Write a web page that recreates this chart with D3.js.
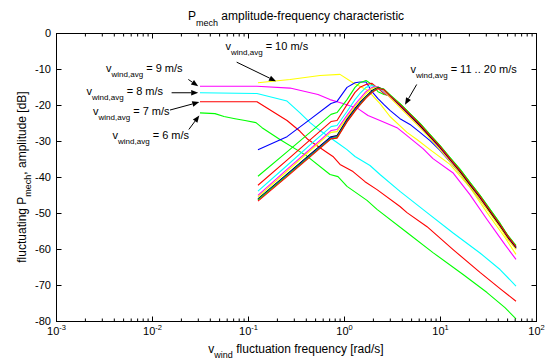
<!DOCTYPE html>
<html>
<head>
<meta charset="utf-8">
<script src="https://cdn.jsdelivr.net/npm/d3@7"></script>
<style>
  html, body { margin: 0; padding: 0; background: #fff; }
  svg { display: block; font-family: "Liberation Sans", Arial, Helvetica, sans-serif; }
  text { white-space: pre; }
</style>
</head>
<body>
<svg id="chart" width="547" height="361"></svg>
<script>
// frequencies in rad/s, amplitudes in dB
const freq6 = [0.0316, 0.0453, 0.0562, 0.0733, 0.0931, 0.121, 0.140, 0.215, 0.402, 0.715, 0.866, 1.075, 1.736, 2.207, 4.53, 8.45, 17.4, 30.9, 47.5, 61.9];
const db6 = [-22.2, -22.4, -23.2, -23.8, -24.3, -24.9, -26.3, -29.6, -34.0, -39.3, -39.9, -42.6, -46.5, -49.0, -55.4, -61.0, -67.1, -72.1, -76.3, -79.4];

const freq7 = [0.0316, 0.124, 0.255, 0.348, 0.422, 0.665, 0.767, 0.909, 1.241, 1.655, 2.207, 3.831, 4.53, 7.33, 13.6, 26.1, 42.2, 61.9];
const db7 = [-19.1, -19.1, -24.3, -27.3, -29.6, -33.2, -34.3, -36.5, -38.5, -41.3, -43.5, -48.2, -49.9, -53.8, -60.1, -66.5, -71.0, -74.5];

const freq8 = [0.0316, 0.124, 0.255, 0.348, 0.443, 0.562, 0.846, 1.075, 1.302, 1.866, 2.371, 3.831, 7.33, 13.6, 26.1, 42.2, 61.9];
const db8 = [-16.6, -16.8, -18.9, -22.2, -24.9, -27.1, -30.4, -32.4, -34.3, -36.8, -39.3, -44.0, -49.9, -55.5, -61.1, -65.7, -70.3];

const freq9 = [0.0316, 0.124, 0.274, 0.536, 0.715, 0.976, 1.399, 1.778, 2.371, 3.565, 4.53, 6.65, 8.45, 13.6, 20.5, 30.9, 47.5, 61.9];
const db9 = [-14.8, -14.8, -15.3, -17.1, -18.5, -19.6, -21.0, -22.9, -24.3, -26.3, -28.5, -32.1, -34.9, -38.8, -44.9, -51.8, -58.8, -62.9];

const freq10 = [0.127, 0.274, 0.562, 0.908, 1.241, 1.778, 2.371, 3.013, 4.53, 5.75, 7.87, 12.7, 20.5, 30.9, 47.5, 61.9];
const db10 = [-13.8, -12.9, -11.8, -11.5, -13.8, -16.0, -19.6, -23.2, -27.6, -29.6, -32.4, -36.5, -42.9, -49.9, -56.8, -61.5];

// 11 .. 20 m/s share one frequency grid
const freqHigh = [0.127, 0.255, 0.443, 0.732, 0.846, 1.075, 1.302, 1.468, 1.695, 1.958, 2.26, 2.61, 3.013, 3.831, 4.87, 6.19, 7.87, 10.0, 12.7, 16.2, 20.5, 26.1, 33.2, 42.2, 51.1, 61.9];
const db11 = [-32.4, -28.8, -24.0, -19.6, -19.0, -15.1, -13.8, -13.6, -13.6, -16.3, -18.2, -19.9, -21.5, -23.8, -25.4, -27.6, -29.9, -32.6, -35.7, -39.0, -42.6, -46.3, -49.9, -53.8, -57.1, -59.9];
const db12 = [-39.8, -33.0, -27.6, -22.6, -22.1, -18.5, -15.1, -13.8, -13.2, -14.3, -16.3, -17.1, -17.4, -19.6, -22.4, -25.1, -28.2, -31.3, -34.6, -37.9, -41.5, -45.1, -49.0, -52.9, -56.3, -59.3];
const db13 = [-42.3, -35.3, -29.7, -24.6, -24.3, -19.9, -16.5, -15.1, -14.3, -14.0, -15.4, -16.8, -17.6, -20.1, -22.9, -25.7, -28.8, -31.8, -35.1, -38.5, -42.1, -45.7, -49.6, -53.5, -56.8, -59.6];
const db14 = [-43.9, -36.8, -31.1, -26.0, -25.7, -21.8, -18.5, -16.8, -15.1, -14.6, -15.1, -16.5, -17.6, -20.1, -22.9, -25.7, -28.8, -31.8, -35.1, -38.5, -42.1, -45.7, -49.6, -53.5, -56.8, -59.6];
const db15 = [-45.1, -37.9, -32.3, -27.1, -26.8, -22.9, -19.9, -18.2, -16.3, -15.1, -14.9, -16.3, -17.9, -20.4, -23.2, -26.0, -29.0, -32.1, -35.4, -38.8, -42.4, -46.0, -49.9, -53.8, -57.1, -59.9];
const db16 = [-45.5, -38.4, -32.7, -27.6, -27.4, -23.5, -20.4, -18.8, -16.8, -15.4, -15.0, -16.0, -17.9, -20.7, -23.5, -26.3, -29.3, -32.4, -35.7, -39.0, -42.6, -46.3, -50.1, -54.0, -57.4, -60.1];
const db17 = [-46.1, -39.2, -33.7, -28.8, -28.5, -24.0, -21.0, -19.3, -17.6, -16.0, -15.1, -15.7, -17.4, -20.1, -22.9, -25.7, -28.8, -31.8, -35.1, -38.5, -42.1, -45.7, -49.6, -53.5, -56.8, -59.6];
const db18 = [-46.3, -39.4, -34.0, -29.0, -28.8, -24.3, -21.3, -19.6, -17.8, -16.3, -15.3, -15.7, -17.4, -19.9, -22.6, -25.4, -28.5, -31.5, -34.9, -38.2, -41.8, -45.4, -49.3, -53.2, -56.5, -59.3];
const db19 = [-46.4, -39.6, -34.2, -29.3, -29.0, -24.6, -21.5, -19.9, -17.9, -16.4, -15.3, -15.6, -17.1, -19.6, -22.4, -25.1, -28.2, -31.3, -34.6, -37.9, -41.5, -45.1, -49.0, -52.9, -56.3, -59.0];
const db20 = [-46.7, -39.9, -34.4, -29.4, -29.2, -24.7, -21.7, -20.0, -18.1, -16.5, -15.4, -15.7, -17.4, -19.9, -22.6, -25.4, -28.5, -31.5, -34.9, -38.2, -41.8, -45.4, -49.3, -53.2, -56.5, -59.3];

const windSpeeds = [6, 7, 8, 9, 10, 11, 12, 13, 14, 15, 16, 17, 18, 19, 20];
const seriesFreq = [freq6, freq7, freq8, freq9, freq10, freqHigh, freqHigh, freqHigh, freqHigh, freqHigh, freqHigh, freqHigh, freqHigh, freqHigh, freqHigh];
const seriesDb = [db6, db7, db8, db9, db10, db11, db12, db13, db14, db15, db16, db17, db18, db19, db20];
const seriesColor = ['g', 'r', 'c', 'm', 'y', 'b', 'g', 'r', 'c', 'm', 'y', 'k', 'b', 'g', 'r'];
const MATLAB = { b: '#0000ff', g: '#00ff00', r: '#ff0000', c: '#00ffff', m: '#ff00ff', y: '#ffff00', k: '#000000' };

const xTickExp = [-3, -2, -1, 0, 1, 2];
const yTicks = [0, -10, -20, -30, -40, -50, -60, -70, -80];

// annotations: text anchor (left, baseline) and arrow from/to, all in data units
const noteText = ['= 9 m/s', '= 8 m/s', '= 7 m/s', '= 6 m/s', '= 10 m/s', '= 11 .. 20 m/s'];
const noteF = [0.00332, 0.00208, 0.00243, 0.00388, 0.0583, 4.93];
const noteDb = [-10.7, -17.1, -22.9, -29.4, -4.8, -11.05];
const arrowFrom = [[0.0239, -12.9], [0.016, -16.6], [0.0154, -21.4], [0.0242, -26.8], [0.0762, -8.1], [5.72, -14.3]];
const arrowTo = [[0.0303, -14.8], [0.0303, -16.6], [0.0311, -19.2], [0.0311, -22.9], [0.196, -13.4], [4.32, -19.9]];

const svg = d3.select('#chart');
const W = 547, H = 361;
const pLeft = 56, pRight = 536, pTop = 33, pBottom = 321;

const x = d3.scaleLog().domain([1e-3, 1e2]).range([pLeft, pRight]);
const y = d3.scaleLinear().domain([-80, 0]).range([pBottom, pTop]);

svg.append('rect').attr('width', W).attr('height', H).attr('fill', '#fff');

// curves
const line = d3.line()
  .x(d => x(d[0]))
  .y(d => y(d[1]));

const curves = svg.append('g')
  .attr('fill', 'none')
  .attr('stroke-width', 1.1)
  .attr('stroke-linejoin', 'round');

windSpeeds.forEach((v, i) => {
  const pts = seriesFreq[i].map((f, j) => [f, seriesDb[i][j]]);
  curves.append('path')
    .attr('d', line(pts))
    .attr('stroke', MATLAB[seriesColor[i]]);
});

// axes
const majorX = xTickExp.map(e => Math.pow(10, e));
const minorX = [];
xTickExp.slice(0, -1).forEach(e => {
  for (let k = 2; k <= 9; k++) minorX.push(k * Math.pow(10, e));
});

function xAxis(gen, ty, vals, size) {
  svg.append('g')
    .attr('transform', `translate(0,${ty})`)
    .call(gen(x).tickValues(vals).tickSize(size).tickSizeOuter(0).tickFormat(''))
    .call(g => g.select('.domain').remove())
    .call(g => g.selectAll('line').attr('stroke', '#000'));
}
xAxis(d3.axisBottom, pBottom + 0.5, majorX, -5);
xAxis(d3.axisBottom, pBottom + 0.5, minorX, -3);
xAxis(d3.axisTop, pTop + 0.5, majorX, -5);
xAxis(d3.axisTop, pTop + 0.5, minorX, -3);

function yAxis(gen, tx) {
  svg.append('g')
    .attr('transform', `translate(${tx},0)`)
    .call(gen(y).tickValues(yTicks).tickSize(-5).tickSizeOuter(0).tickFormat(''))
    .call(g => g.select('.domain').remove())
    .call(g => g.selectAll('line').attr('stroke', '#000'));
}
yAxis(d3.axisLeft, pLeft + 0.5);
yAxis(d3.axisRight, pRight + 0.5);

svg.append('rect')
  .attr('x', pLeft + 0.5).attr('y', pTop + 0.5)
  .attr('width', pRight - pLeft).attr('height', pBottom - pTop)
  .attr('fill', 'none').attr('stroke', '#000').attr('stroke-width', 1);

// tick labels
svg.append('g').selectAll('text')
  .data(yTicks)
  .join('text')
  .attr('x', pLeft - 5)
  .attr('y', d => y(d) + 4)
  .attr('text-anchor', 'end')
  .attr('font-size', 11)
  .text(d => d);

const xl = svg.append('g').selectAll('text')
  .data(xTickExp)
  .join('text')
  .attr('x', d => x(Math.pow(10, d)) + 0.5)
  .attr('y', pBottom + 14)
  .attr('text-anchor', 'middle')
  .attr('font-size', 11);
xl.append('tspan').text('10');
xl.append('tspan').attr('dy', -5).attr('font-size', 7.5).text(d => d);

// titles
function subText(g, px, py, base, sub, rest, size, subSize, shift) {
  const t = g.append('text').attr('x', px).attr('y', py).attr('font-size', size);
  t.append('tspan').text(base);
  t.append('tspan').attr('dy', shift).attr('font-size', subSize).text(sub);
  t.append('tspan').attr('dy', -shift).text(rest);
  return t;
}

subText(svg, (pLeft + pRight) / 2, 20, 'P', 'mech', ' amplitude-frequency characteristic', 12, 9, 6)
  .attr('text-anchor', 'middle');
subText(svg, (pLeft + pRight) / 2, 353, 'v', 'wind', ' fluctuation frequency [rad/s]', 12, 9, 5)
  .attr('text-anchor', 'middle');
subText(svg.append('g').attr('transform', `translate(26,${(pTop + pBottom) / 2}) rotate(-90)`),
  0, 0, 'fluctuating P', 'mech', ', amplitude [dB]', 12, 9, 5)
  .attr('text-anchor', 'middle');

// annotations
const notes = svg.append('g');
noteText.forEach((t, i) => {
  subText(notes, x(noteF[i]), y(noteDb[i]), 'v', 'wind,avg', ' ' + t, 11, 8, 5);
});

const arrows = svg.append('g');
arrowFrom.forEach((a, i) => {
  const x1 = x(a[0]), y1 = y(a[1]);
  const x2 = x(arrowTo[i][0]), y2 = y(arrowTo[i][1]);
  const ang = Math.atan2(y2 - y1, x2 - x1);
  const hl = 7, hw = 2.8;
  const bx = x2 - hl * Math.cos(ang), by = y2 - hl * Math.sin(ang);
  arrows.append('line')
    .attr('x1', x1).attr('y1', y1).attr('x2', bx).attr('y2', by)
    .attr('stroke', '#000').attr('stroke-width', 1);
  arrows.append('path')
    .attr('d', `M${x2},${y2}L${bx - hw * Math.sin(ang)},${by + hw * Math.cos(ang)}L${bx + hw * Math.sin(ang)},${by - hw * Math.cos(ang)}Z`)
    .attr('fill', '#000');
});
</script>
</body>
</html>
